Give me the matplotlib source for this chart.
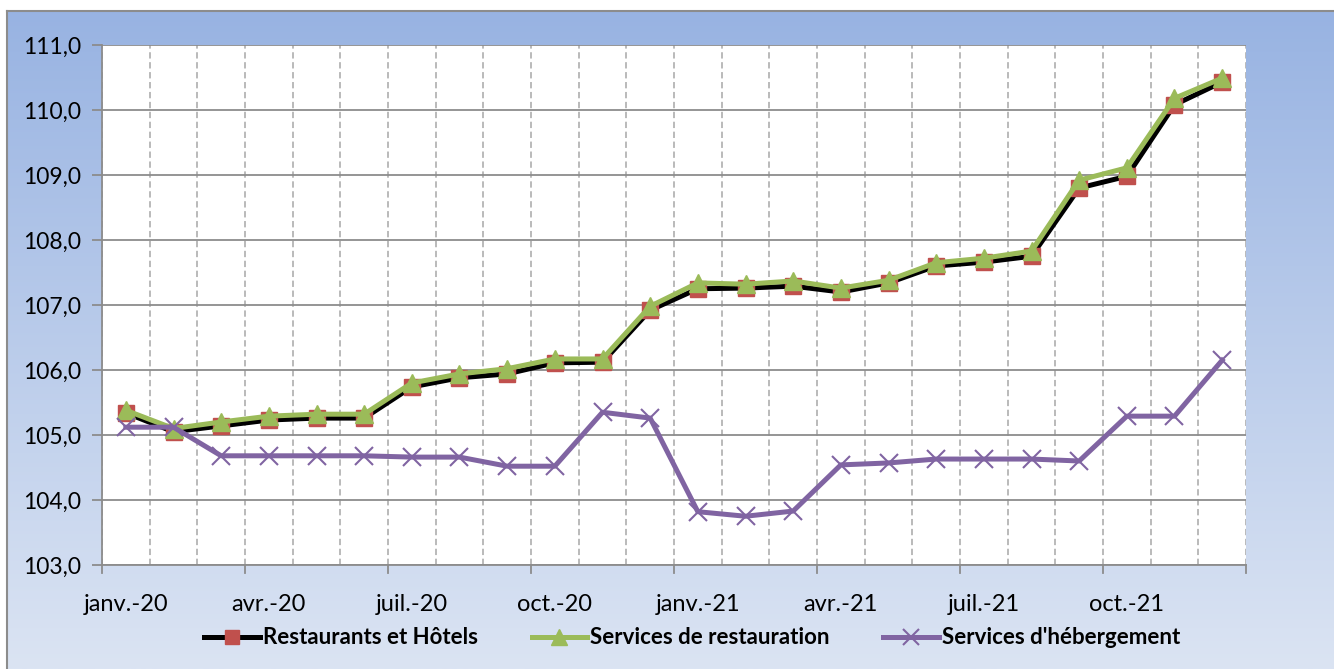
import numpy as np
import matplotlib
matplotlib.use("Agg")
from matplotlib import pyplot as plt
from matplotlib.ticker import FuncFormatter
from matplotlib.colors import LinearSegmentedColormap

months = ["janv.-20", "févr.-20", "mars-20", "avr.-20", "mai-20", "juin-20",
          "juil.-20", "août-20", "sept.-20", "oct.-20", "nov.-20", "déc.-20",
          "janv.-21", "févr.-21", "mars-21", "avr.-21", "mai-21", "juin-21",
          "juil.-21", "août-21", "sept.-21", "oct.-21", "nov.-21", "déc.-21"]

restaurants_hotels = [105.34, 105.05, 105.14, 105.23, 105.26, 105.26,
                      105.74, 105.88, 105.94, 106.11, 106.12, 106.92,
                      107.25, 107.26, 107.29, 107.20, 107.34, 107.60,
                      107.66, 107.75, 108.80, 108.98, 110.08, 110.43]
restauration = [105.38, 105.10, 105.20, 105.29, 105.32, 105.32,
                105.80, 105.94, 106.02, 106.17, 106.17, 106.98,
                107.34, 107.32, 107.37, 107.26, 107.38, 107.65,
                107.72, 107.83, 108.92, 109.11, 110.18, 110.49]
hebergement = [105.12, 105.12, 104.68, 104.68, 104.68, 104.68,
               104.66, 104.66, 104.52, 104.52, 105.35, 105.26,
               103.82, 103.75, 103.83, 104.54, 104.57, 104.63,
               104.63, 104.63, 104.60, 105.29, 105.29, 106.15]

W, H = 1334, 669
fig = plt.figure(figsize=(W / 100, H / 100), dpi=100)
fig.patch.set_facecolor("white")

# gradient background of the chart area (blue at top, pale at bottom)
bg = fig.add_axes([7 / W, 0, 1 - 7 / W, 1 - 11 / H])
cmap = LinearSegmentedColormap.from_list("bg", ["#98b3e2", "#dbe4f3"])
bg.imshow(np.linspace(0, 1, 256).reshape(-1, 1), aspect="auto", cmap=cmap,
          extent=[0, 1, 0, 1], origin="upper")
bg.set_xticks([])
bg.set_yticks([])
for side in ["right", "bottom"]:
    bg.spines[side].set_visible(False)
for side in ["left", "top"]:
    bg.spines[side].set_color("#8c8c8c")
    bg.spines[side].set_linewidth(1.5)
bg.set_zorder(0)

left, right, top, bottom = 102, 1246, 45, 565
ax = fig.add_axes([left / W, 1 - bottom / H, (right - left) / W, (bottom - top) / H])
ax.set_zorder(1)
ax.set_facecolor("white")

x = np.arange(len(months))
lw = 3.6
ax.plot(x, restaurants_hotels, color="black", lw=lw, marker="s", ms=12,
        mfc="#c0504d", mec="#c0504d", label="Restaurants et Hôtels", zorder=3)
ax.plot(x, restauration, color="#9bbb59", lw=lw, marker="^", ms=13,
        mfc="#9bbb59", mec="#9bbb59", label="Services de restauration", zorder=4)
ax.plot(x, hebergement, color="#8064a2", lw=lw, marker="x", ms=13, mew=1.5,
        mec="#8064a2", label="Services d'hébergement", zorder=5)

ax.set_xlim(-0.5, len(months) - 0.5)
ax.set_ylim(103, 111)
ax.set_yticks(np.arange(103, 111.1, 1))
ax.yaxis.set_major_formatter(FuncFormatter(lambda v, p: f"{v:.1f}".replace(".", ",")))
ax.yaxis.grid(True, color="#8c8c8c", lw=1.3)

ax.set_xticks(x[::3])
ax.set_xticklabels(months[::3])
ax.set_xticks(np.arange(-0.5, len(months)), minor=True)
ax.xaxis.grid(True, which="minor", color="#b4b4b4", lw=1.3, ls=(0, (3.5, 2)))
ax.tick_params(axis="x", which="both", length=0, pad=21, labelsize=17)
ax.tick_params(axis="y", length=7, width=1.3, color="#8c8c8c", pad=8, labelsize=16.5)
ax.set_axisbelow(True)

# tick marks at every quarter boundary
trans = ax.get_xaxis_transform()
for b in np.arange(-0.5, len(months), 3):
    ax.plot([b, b], [0, -0.016], color="#8c8c8c", lw=1.3, transform=trans, clip_on=False)

for side in ["top", "right"]:
    ax.spines[side].set_visible(False)
for side in ["left", "bottom"]:
    ax.spines[side].set_color("#8c8c8c")
    ax.spines[side].set_linewidth(1.3)

for lab in ax.get_xticklabels() + ax.get_yticklabels():
    lab.set_family("Lato")

fig.legend(loc="center", bbox_to_anchor=(0.519, 1 - 638 / H), ncol=3, frameon=False,
           prop={"family": "Lato", "weight": "bold", "size": 16},
           handlelength=2.5, columnspacing=2.4, handletextpad=0.15, markerscale=0.85)

fig.savefig("out.png", dpi=100)
